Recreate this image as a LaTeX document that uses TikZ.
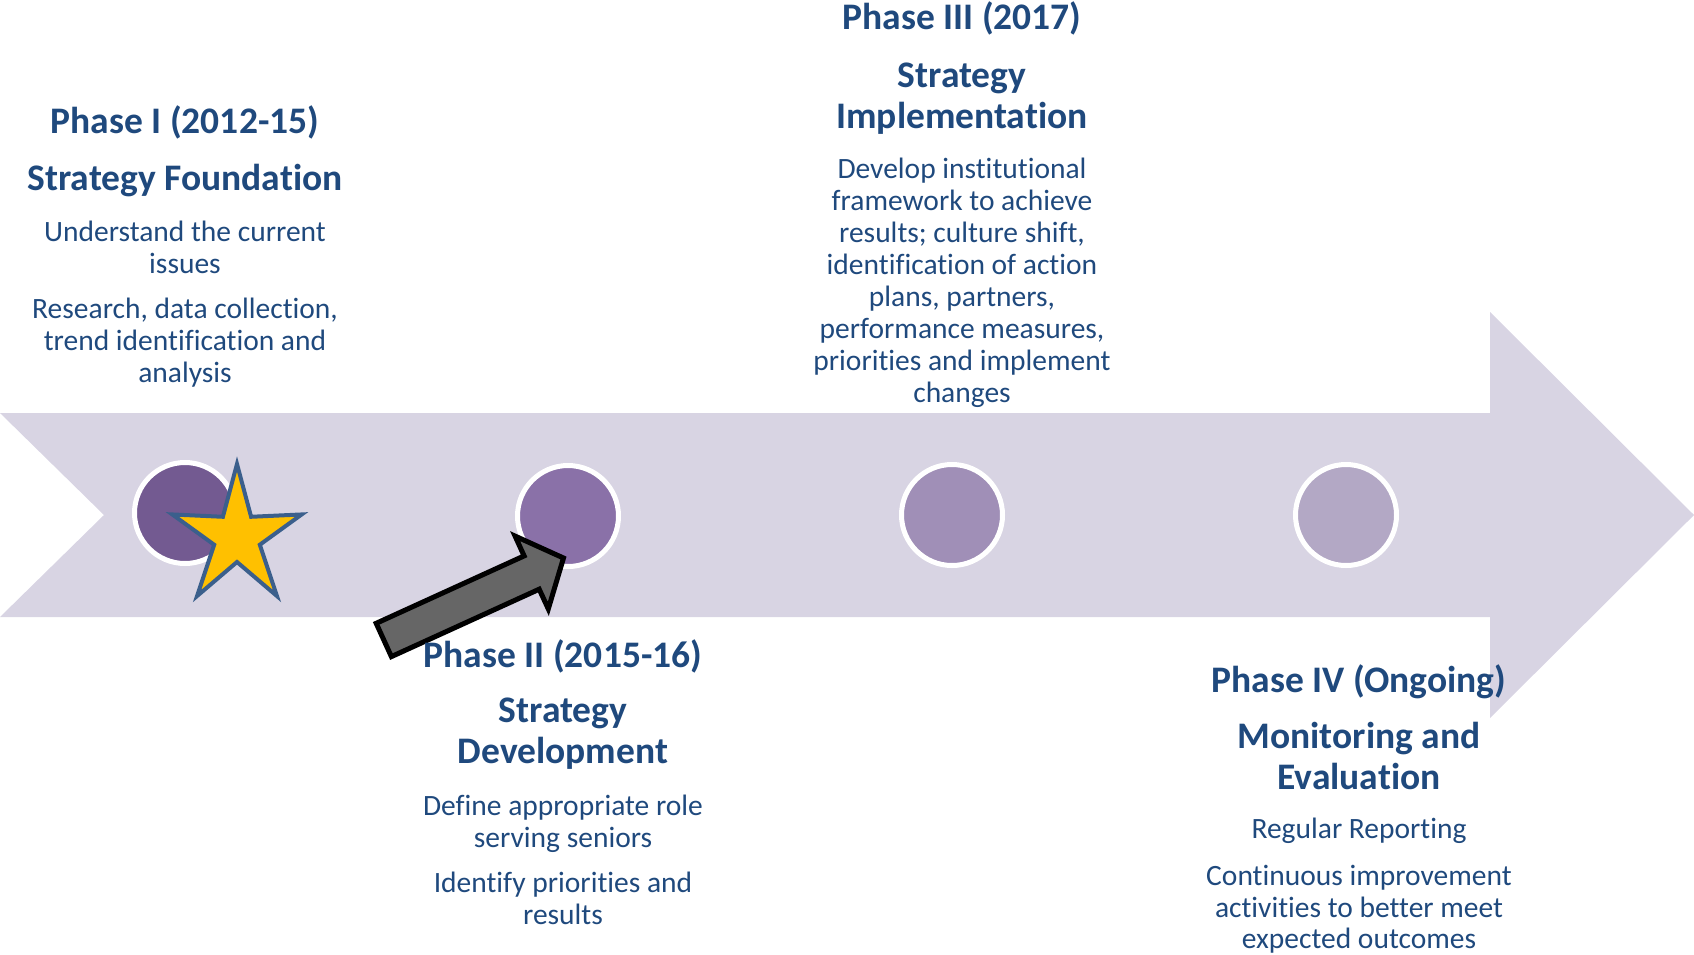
\documentclass[tikz,border=0pt]{standalone}
\usepackage{fontspec}
\setmainfont{Carlito}[Ligatures=NoCommon]
\definecolor{tblue}{HTML}{1F497D}
\definecolor{bandc}{HTML}{D8D4E3}
\definecolor{cA}{HTML}{735A91}
\definecolor{cB}{HTML}{8A71A8}
\definecolor{cC}{HTML}{A08FB7}
\definecolor{cD}{HTML}{B3A8C5}
\definecolor{starfill}{HTML}{FFC000}
\definecolor{starline}{HTML}{3B5F8C}
\definecolor{pointer}{HTML}{666666}
\begin{document}
\begin{tikzpicture}[x=1pt,y=-1pt,
  lab/.style={anchor=base,inner sep=0,text=tblue,font=\fontsize{37.5}{41}\selectfont\bfseries},
  body/.style={anchor=base,inner sep=0,text=tblue,font=\fontsize{29.5}{32}\selectfont},
  dot/.style={circle,minimum size=101pt,inner sep=0,draw=white,line width=5pt}]
\useasboundingbox (0,0) rectangle (1694,954);
% timeline band
\fill[bandc] (0,413) -- (1490,413) -- (1490,312) -- (1694,515) -- (1490,718)
  -- (1490,617) -- (0,617) -- (104,515) -- cycle;
% phase dots
\node[dot,fill=cA] (c1) at (185,513) {};
\node[dot,fill=cB] (c2) at (568,516) {};
\node[dot,fill=cC] (c3) at (952,515) {};
\node[dot,fill=cD] (c4) at (1346,515) {};
% grey pointer arrow
\draw[line width=5pt,fill=pointer,line join=miter]
  (376.2,623.3) -- (524.1,555.9) -- (515.1,536.1) -- (563.5,558)
  -- (548.3,608.9) -- (539.2,589.2) -- (391.4,656.6) -- cycle;
% star
\draw[starline,fill=starfill,line width=4pt,line join=miter]
  ({237+68*cos(90)},{537-73*sin(90)}) -- ({237+24*cos(126)},{537-25*sin(126)})
  -- ({237+68*cos(162)},{537-73*sin(162)}) -- ({237+24*cos(198)},{537-25*sin(198)})
  -- ({237+68*cos(234)},{537-73*sin(234)}) -- ({237+24*cos(270)},{537-25*sin(270)})
  -- ({237+68*cos(306)},{537-73*sin(306)}) -- ({237+24*cos(342)},{537-25*sin(342)})
  -- ({237+68*cos(18)},{537-73*sin(18)}) -- ({237+24*cos(54)},{537-25*sin(54)})
  -- cycle;
% Phase I
\node[lab] (p1a) at (185,133) {Phase I (2012-15)};
\node[lab] (p1b) at (185,190) {Strategy Foundation};
\node[body] (p1c) at (185,241) {Understand the current};
\node[body] (p1d) at (185,273) {issues};
\node[body] (p1e) at (185,318) {Research, data collection,};
\node[body] (p1f) at (185,350) {trend identification and};
\node[body] (p1g) at (185,382) {analysis};
% Phase II
\node[lab] (p2a) at (563,667) {Phase II (2015-16)};
\node[lab] (p2b) at (563,722) {Strategy};
\node[lab] (p2c) at (563,763) {Development};
\node[body] (p2d) at (563,815) {Define appropriate role};
\node[body] (p2e) at (563,847) {serving seniors};
\node[body] (p2f) at (563,892) {Identify priorities and};
\node[body] (p2g) at (563,924) {results};
% Phase III
\node[lab] (p3a) at (962,29) {Phase III (2017)};
\node[lab] (p3b) at (962,87) {Strategy};
\node[lab] (p3c) at (962,128) {Implementation};
\node[body] (p3d) at (962,178) {Develop institutional};
\node[body] (p3e) at (962,210) {framework to achieve};
\node[body] (p3f) at (962,242) {results; culture shift,};
\node[body] (p3g) at (962,274) {identification of action};
\node[body] (p3h) at (962,306) {plans, partners,};
\node[body] (p3i) at (962,338) {performance measures,};
\node[body] (p3j) at (962,370) {priorities and implement};
\node[body] (p3k) at (962,402) {changes};
% Phase IV
\node[lab] (p4a) at (1359,692) {Phase IV (Ongoing)};
\node[lab] (p4b) at (1359,748) {Monitoring and};
\node[lab] (p4c) at (1359,789) {Evaluation};
\node[body] (p4d) at (1359,838) {Regular Reporting};
\node[body] (p4e) at (1359,885) {Continuous improvement};
\node[body] (p4f) at (1359,917) {activities to better meet};
\node[body] (p4g) at (1359,948) {expected outcomes};
\end{tikzpicture}
\end{document}
